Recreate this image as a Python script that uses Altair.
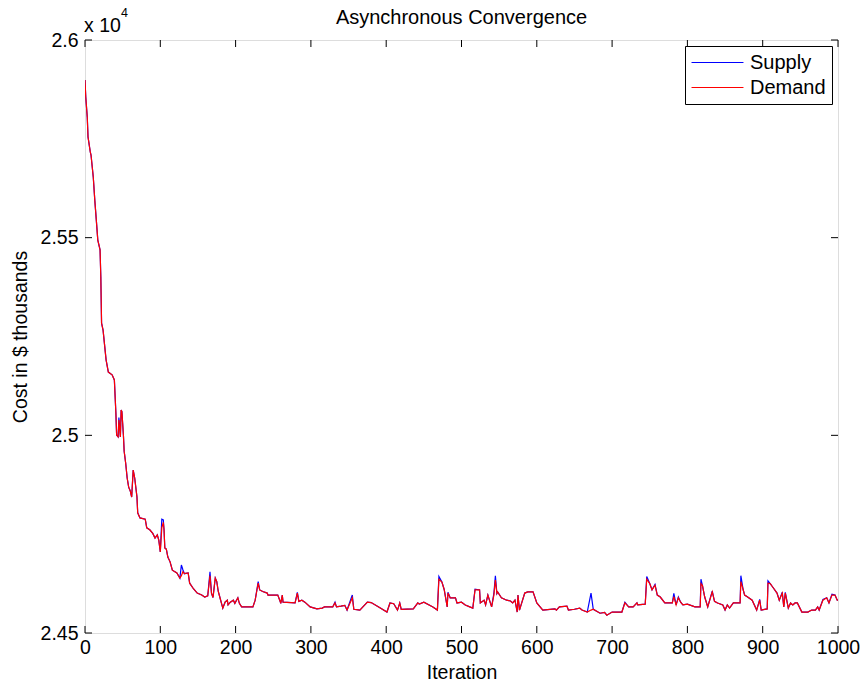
import altair as alt
import pandas as pd

# ---- data ----
iteration = [0, 1, 3, 4, 7, 8, 11, 13, 15, 17, 20, 21, 22, 24, 28, 31, 36, 39, 41, 42,
             44, 45, 47, 48, 49, 51, 52, 54, 56, 58, 60, 62, 64, 66, 69, 70, 73, 80, 82, 86,
             90, 93, 96, 98, 100, 102, 104, 105, 106, 108, 110, 113, 116, 122, 126, 128, 130, 132, 137, 139,
             144, 149, 155, 159, 163, 166, 168, 170, 173, 175, 177, 179, 183, 186, 189, 190, 193, 197, 199, 203,
             205, 208, 223, 226, 230, 232, 236, 242, 243, 256, 259, 260, 262, 263, 279, 282, 284, 288, 292, 299,
             308, 315, 318, 329, 332, 334, 340, 345, 348, 355, 357, 365, 375, 380, 390, 401, 405, 410, 415, 418,
             420, 436, 442, 444, 450, 462, 468, 470, 474, 477, 481, 482, 485, 492, 494, 500, 505, 511, 515, 518,
             524, 525, 530, 532, 535, 540, 543, 545, 547, 548, 553, 560, 565, 568, 571, 574, 575, 577, 584, 588,
             595, 600, 608, 624, 626, 630, 640, 642, 650, 657, 660, 667, 672, 675, 684, 690, 693, 700, 713, 717,
             722, 728, 733, 734, 744, 746, 750, 753, 757, 760, 764, 770, 773, 780, 782, 785, 788, 791, 794, 800,
             810, 817, 818, 820, 823, 827, 833, 836, 840, 847, 850, 853, 856, 861, 870, 871, 874, 876, 880, 886,
             892, 896, 898, 906, 907, 910, 913, 919, 922, 926, 928, 930, 934, 937, 940, 943, 946, 952, 960, 965,
             970, 973, 975, 980, 985, 988, 992, 996, 999, 1000]

demand = [25899, 25856, 25805, 25755, 25717, 25709, 25653, 25595, 25545, 25494, 25469, 25401, 25284, 25266, 25191, 25160, 25153, 25140, 25057, 25001,
          24996, 25039, 24996, 25064, 25060, 25001, 24960, 24930, 24892, 24869, 24860, 24844, 24912, 24892, 24844, 24804, 24791, 24788, 24766, 24761,
          24752, 24740, 24748, 24735, 24705, 24766, 24780, 24760, 24715, 24712, 24692, 24680, 24659, 24652, 24639, 24645, 24655, 24650, 24652, 24626,
          24612, 24601, 24596, 24591, 24594, 24645, 24600, 24590, 24639, 24630, 24605, 24591, 24563, 24578, 24583, 24571, 24578, 24583, 24575, 24589,
          24575, 24566, 24566, 24583, 24626, 24609, 24605, 24601, 24596, 24596, 24581, 24575, 24596, 24578, 24576, 24601, 24580, 24583, 24578, 24566,
          24561, 24563, 24566, 24566, 24576, 24566, 24568, 24570, 24558, 24589, 24560, 24558, 24578, 24577, 24566, 24553, 24576, 24574, 24558, 24576,
          24560, 24561, 24576, 24573, 24578, 24566, 24558, 24636, 24629, 24610, 24566, 24601, 24589, 24589, 24576, 24578, 24571, 24566, 24563, 24609,
          24609, 24576, 24583, 24571, 24596, 24566, 24596, 24634, 24600, 24604, 24589, 24583, 24581, 24576, 24583, 24553, 24596, 24558, 24601, 24604,
          24604, 24576, 24558, 24561, 24558, 24566, 24568, 24558, 24560, 24563, 24558, 24553, 24558, 24560, 24550, 24552, 24545, 24553, 24553, 24576,
          24566, 24566, 24576, 24571, 24573, 24636, 24625, 24609, 24621, 24596, 24591, 24576, 24576, 24576, 24592, 24571, 24589, 24578, 24571, 24573,
          24566, 24566, 24625, 24620, 24591, 24566, 24604, 24580, 24576, 24571, 24558, 24571, 24563, 24576, 24576, 24630, 24610, 24596, 24591, 24583,
          24558, 24583, 24558, 24561, 24626, 24625, 24617, 24601, 24583, 24601, 24566, 24601, 24563, 24576, 24571, 24576, 24576, 24553, 24553, 24558,
          24558, 24566, 24558, 24583, 24589, 24576, 24596, 24596, 24583, 24583]

supply = [25899, 25856, 25805, 25755, 25717, 25709, 25653, 25595, 25545, 25494, 25469, 25401, 25284, 25266, 25191, 25160, 25153, 25140, 25057, 25001,
          24996, 25045, 24996, 25064, 25060, 25001, 24960, 24930, 24892, 24869, 24860, 24844, 24912, 24892, 24844, 24804, 24791, 24788, 24766, 24761,
          24752, 24740, 24748, 24735, 24705, 24788, 24786, 24760, 24715, 24712, 24692, 24680, 24659, 24652, 24639, 24672, 24660, 24650, 24652, 24626,
          24612, 24601, 24596, 24591, 24594, 24655, 24600, 24590, 24639, 24630, 24605, 24591, 24563, 24578, 24583, 24571, 24578, 24583, 24575, 24589,
          24575, 24566, 24566, 24583, 24630, 24609, 24605, 24601, 24596, 24596, 24581, 24575, 24596, 24578, 24576, 24603, 24580, 24583, 24578, 24566,
          24561, 24563, 24566, 24566, 24578, 24566, 24568, 24570, 24558, 24596, 24560, 24558, 24578, 24577, 24566, 24553, 24576, 24574, 24558, 24576,
          24560, 24561, 24576, 24573, 24578, 24566, 24558, 24643, 24629, 24610, 24566, 24603, 24589, 24589, 24576, 24578, 24571, 24566, 24563, 24611,
          24609, 24576, 24583, 24571, 24596, 24566, 24600, 24645, 24600, 24604, 24589, 24583, 24581, 24576, 24583, 24553, 24596, 24558, 24601, 24604,
          24604, 24576, 24558, 24561, 24558, 24566, 24568, 24558, 24560, 24563, 24558, 24553, 24601, 24560, 24550, 24552, 24545, 24553, 24553, 24578,
          24566, 24566, 24576, 24571, 24573, 24643, 24625, 24609, 24623, 24596, 24591, 24576, 24576, 24576, 24600, 24571, 24591, 24578, 24571, 24573,
          24566, 24566, 24636, 24620, 24591, 24566, 24606, 24580, 24576, 24571, 24558, 24571, 24563, 24576, 24576, 24645, 24610, 24596, 24591, 24583,
          24558, 24585, 24558, 24561, 24632, 24625, 24617, 24601, 24583, 24603, 24566, 24603, 24563, 24576, 24571, 24576, 24576, 24553, 24553, 24558,
          24558, 24566, 24558, 24585, 24589, 24576, 24598, 24596, 24583, 24583]

x_ticks = [0, 100, 200, 300, 400, 500, 600, 700, 800, 900, 1000]
y_ticks = [24500, 25000, 25500, 26000]
series_names = ["Supply", "Demand"]
series_colors = ["#0000ff", "#ff0000"]
chart_title = "Asynchronous Convergence"
x_title = "Iteration"
y_title = "Cost in $ thousands"
multiplier_base = "x 10"
multiplier_exp = "4"

W, H = 753, 593
FONT = "Liberation Sans"
FS = 19.5
TICK = 7

df = pd.DataFrame({"iteration": iteration, "Supply": supply, "Demand": demand})
xt = pd.DataFrame({"t": x_ticks})
yt = pd.DataFrame({"t": y_ticks})

xscale = alt.Scale(domain=[0, 1000], nice=False, zero=False)
yscale = alt.Scale(domain=[24500, 26000], nice=False, zero=False)
sscale = alt.Scale(domain=series_names, range=series_colors)

x_axis = alt.Axis(values=x_ticks, format="d", ticks=False, domain=False, grid=False, labelPadding=5,
                  labelFontSize=FS, labelFont=FONT, labelColor="black",
                  titleFontSize=FS, titleFont=FONT, titleFontWeight="normal", titleColor="black",
                  titlePadding=7, labelFlush=False, labelOverlap=False)
y_axis = alt.Axis(values=y_ticks, ticks=False, domain=False, grid=False, labelPadding=7,
                  labelExpr="format(datum.value / 10000, '.3~g')",
                  labelFontSize=FS, labelFont=FONT, labelColor="black",
                  titleFontSize=FS, titleFont=FONT, titleFontWeight="normal", titleColor="black",
                  titlePadding=10, labelFlush=False, labelOverlap=False)

legend = alt.Legend(title=None, orient="top-right", offset=6, fillColor="white", strokeColor="black",
                    padding=6, labelFontSize=20, labelFont=FONT, labelColor="black",
                    symbolType="stroke", symbolSize=2700, symbolStrokeWidth=1,
                    clipHeight=21, rowPadding=4, labelOffset=6, cornerRadius=0)

folded = alt.Chart(df).transform_fold(series_names, as_=["series", "cost"])


def series_line(name):
    return folded.transform_filter(alt.datum.series == name).mark_line(strokeWidth=1.2, clip=True).encode(
        x=alt.X("iteration:Q", scale=xscale, axis=x_axis, title=x_title),
        y=alt.Y("cost:Q", scale=yscale, axis=y_axis, title=y_title),
        stroke=alt.Stroke("series:N", scale=sscale, legend=legend, sort=series_names),
        order=alt.Order("iteration:Q"),
    )


supply_line = series_line("Supply")
demand_line = series_line("Demand")

xtick_bottom = alt.Chart(xt).mark_rule(color="black", strokeWidth=1).encode(
    x=alt.X("t:Q", scale=xscale, axis=x_axis, title=x_title), y=alt.value(H), y2=alt.value(H - TICK))
xtick_top = alt.Chart(xt).mark_rule(color="black", strokeWidth=1).encode(
    x=alt.X("t:Q", scale=xscale, axis=x_axis, title=x_title), y=alt.value(0), y2=alt.value(TICK))
ytick_left = alt.Chart(yt).mark_rule(color="black", strokeWidth=1).encode(
    y=alt.Y("t:Q", scale=yscale, axis=y_axis, title=y_title), x=alt.value(0), x2=alt.value(TICK))
ytick_right = alt.Chart(yt).mark_rule(color="black", strokeWidth=1).encode(
    y=alt.Y("t:Q", scale=yscale, axis=y_axis, title=y_title), x=alt.value(W), x2=alt.value(W - TICK))

one = pd.DataFrame({"k": [0]})
title_text = alt.Chart(one).mark_text(font=FONT, fontSize=20, color="black", align="center",
                                       baseline="alphabetic").encode(
    x=alt.value(W / 2), y=alt.value(-16), text=alt.value(chart_title))
mult_text = alt.Chart(one).mark_text(font=FONT, fontSize=FS, color="black", align="left",
                                      baseline="alphabetic").encode(
    x=alt.value(-1), y=alt.value(-8), text=alt.value(multiplier_base))
exp_text = alt.Chart(one).mark_text(font=FONT, fontSize=12.5, color="black", align="left",
                                     baseline="alphabetic").encode(
    x=alt.value(36), y=alt.value(-23), text=alt.value(multiplier_exp))

chart = alt.layer(
    supply_line, demand_line, xtick_bottom, xtick_top, ytick_left, ytick_right,
    title_text, mult_text, exp_text
).properties(
    width=W, height=H,
    autosize=alt.AutoSizeParams(type="none"),
    padding={"left": 85, "top": 40, "right": 26, "bottom": 53},
).configure_view(
    stroke="black", strokeWidth=1
).configure(background="white")

chart.save("out.html", embed_options={"renderer": "svg", "actions": False})
